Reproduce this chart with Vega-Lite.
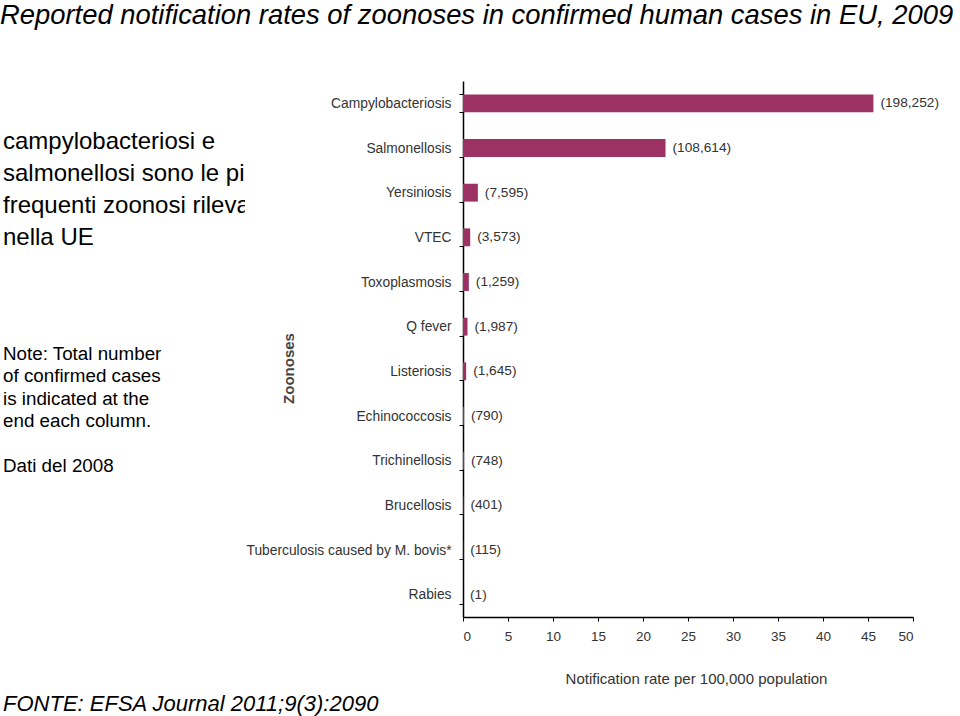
{
  "$schema": "https://vega.github.io/schema/vega-lite/v6.json",
  "padding": {"top": 2, "left": 0, "right": 0, "bottom": 0},
  "background": "white",
  "title": {
    "text": "Reported notification rates of zoonoses in confirmed human cases in EU, 2009",
    "anchor": "start",
    "frame": "bounds",
    "font": "Liberation Sans",
    "fontSize": 27.4,
    "fontStyle": "italic",
    "fontWeight": "normal",
    "color": "#000",
    "offset": 44.6
  },
  "bounds": "flush",
  "spacing": 218,
  "config": {"view": {"stroke": null}},
  "hconcat": [
    {
      "width": 245,
      "height": 536,
      "resolve": {"scale": {"y": "independent"}},
      "layer": [
        {
          "data": {"values": [
            {"line": 1, "text": "campylobacteriosi e"},
            {"line": 2, "text": "salmonellosi sono le più"},
            {"line": 3, "text": "frequenti zoonosi rilevate"},
            {"line": 4, "text": "nella UE"}
          ]},
          "mark": {"type": "text", "align": "left", "baseline": "middle", "font": "Liberation Sans", "fontSize": 24, "dx": 3, "clip": true, "color": "#000"},
          "encoding": {
            "x": {"datum": 0, "type": "quantitative", "scale": {"domain": [0, 1]}, "axis": null},
            "y": {"field": "line", "type": "quantitative", "scale": {"domain": [-0.90, 15.85], "reverse": true, "nice": false, "zero": false}, "axis": null},
            "text": {"field": "text"}
          }
        },
        {
          "data": {"values": [
            {"line": 1, "text": "Note: Total number"},
            {"line": 2, "text": "of confirmed cases"},
            {"line": 3, "text": "is indicated at the"},
            {"line": 4, "text": "end each column."},
            {"line": 6, "text": "Dati del 2008"}
          ]},
          "mark": {"type": "text", "align": "left", "baseline": "middle", "font": "Liberation Sans", "fontSize": 18.8, "dx": 3, "color": "#000"},
          "encoding": {
            "x": {"datum": 0, "type": "quantitative", "scale": {"domain": [0, 1]}, "axis": null},
            "y": {"field": "line", "type": "quantitative", "scale": {"domain": [-11.1875, 12.74], "reverse": true, "nice": false, "zero": false}, "axis": null},
            "text": {"field": "text"}
          }
        },
        {
          "data": {"values": [
            {"line": 1, "text": "FONTE: EFSA Journal 2011;9(3):2090"}
          ]},
          "mark": {"type": "text", "align": "left", "baseline": "middle", "font": "Liberation Sans", "fontSize": 22, "fontStyle": "italic", "dx": 3, "color": "#000"},
          "encoding": {
            "x": {"datum": 0, "type": "quantitative", "scale": {"domain": [0, 1]}, "axis": null},
            "y": {"field": "line", "type": "quantitative", "scale": {"domain": [-18.47, -1.72], "reverse": true, "nice": false, "zero": false}, "axis": null},
            "text": {"field": "text"}
          }
        }
      ]
    },
    {
      "width": 450,
      "height": 536,
      "data": {"values": [
        {"zoonosis": "Campylobacteriosis", "rate": 45.6, "cases": 198252, "label": "(198,252)"},
        {"zoonosis": "Salmonellosis", "rate": 22.5, "cases": 108614, "label": "(108,614)"},
        {"zoonosis": "Yersiniosis", "rate": 1.65, "cases": 7595, "label": "(7,595)"},
        {"zoonosis": "VTEC", "rate": 0.8, "cases": 3573, "label": "(3,573)"},
        {"zoonosis": "Toxoplasmosis", "rate": 0.65, "cases": 1259, "label": "(1,259)"},
        {"zoonosis": "Q fever", "rate": 0.5, "cases": 1987, "label": "(1,987)"},
        {"zoonosis": "Listeriosis", "rate": 0.35, "cases": 1645, "label": "(1,645)"},
        {"zoonosis": "Echinococcosis", "rate": 0.1, "cases": 790, "label": "(790)"},
        {"zoonosis": "Trichinellosis", "rate": 0.1, "cases": 748, "label": "(748)"},
        {"zoonosis": "Brucellosis", "rate": 0.05, "cases": 401, "label": "(401)"},
        {"zoonosis": "Tuberculosis caused by M. bovis*", "rate": 0.02, "cases": 115, "label": "(115)"},
        {"zoonosis": "Rabies", "rate": 0, "cases": 1, "label": "(1)"}
      ]},
      "encoding": {
        "y": {
          "field": "zoonosis",
          "type": "nominal",
          "sort": null,
          "scale": {"paddingInner": 0.6, "paddingOuter": 0.3},
          "axis": {
            "title": "Zoonoses",
            "titleFont": "Liberation Sans",
            "titleFontSize": 15,
            "titleFontWeight": "bold",
            "titleColor": "#444",
            "titleAngle": -90,
            "titleX": -175,
            "titleY": 287,
            "titleAlign": "center",
            "titleBaseline": "middle",
            "domainColor": "#000",
            "domainWidth": 1.5,
            "tickColor": "#000",
            "tickSize": 4,
            "tickBand": "extent",
            "labelFont": "Liberation Sans",
            "labelFontSize": 13.8,
            "labelColor": "#333",
            "labelPadding": 8,
            "labelLimit": 400
          }
        }
      },
      "layer": [
        {
          "mark": {"type": "bar", "color": "#9b3263"},
          "encoding": {
            "x": {
              "field": "rate",
              "type": "quantitative",
              "scale": {"domain": [0, 50], "nice": false},
              "axis": {
                "values": [0, 5, 10, 15, 20, 25, 30, 35, 40, 45, 50],
                "grid": false,
                "title": "Notification rate per 100,000  population",
                "titleFont": "Liberation Sans",
                "titleFontSize": 15,
                "titleFontWeight": "normal",
                "titleColor": "#333",
                "titlePadding": 29,
                "titleX": 233,
                "domainColor": "#000",
                "domainWidth": 1.5,
                "tickColor": "#000",
                "tickSize": 4,
                "labelFont": "Liberation Sans",
                "labelFontSize": 13.5,
                "labelColor": "#333",
                "labelPadding": 8
              }
            }
          }
        },
        {
          "mark": {"type": "text", "align": "left", "baseline": "middle", "dx": 7, "font": "Liberation Sans", "fontSize": 13.7, "color": "#333"},
          "encoding": {
            "x": {"field": "rate", "type": "quantitative"},
            "text": {"field": "label"}
          }
        }
      ]
    }
  ]
}
